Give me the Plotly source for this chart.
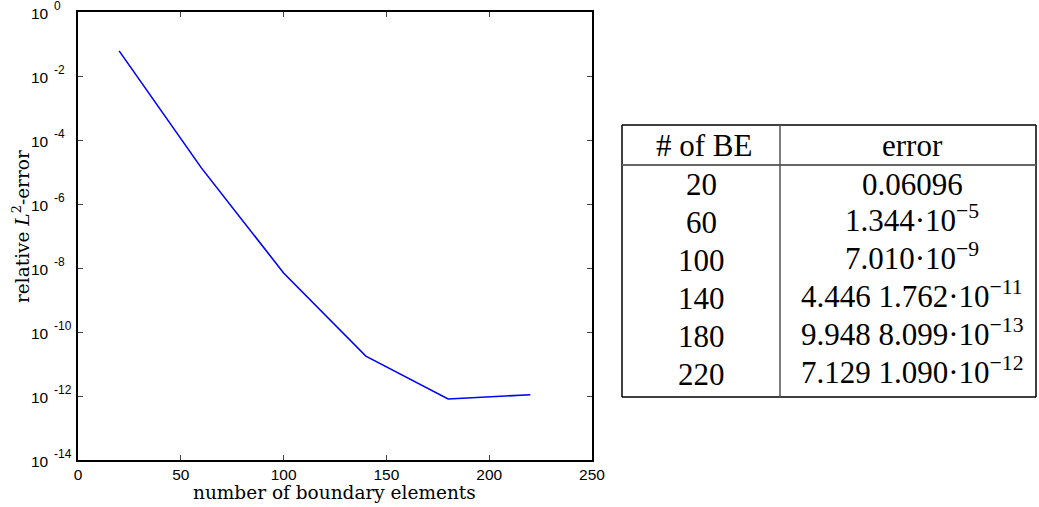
import numpy as np
import plotly.graph_objects as go

# ---- data ----
n_be = [20, 60, 100, 140, 180, 220]
rel_error = [0.06096, 1.344e-5, 7.010e-9, 1.762e-11, 8.099e-13, 1.090e-12]

ytick_vals = [1e0, 1e-2, 1e-4, 1e-6, 1e-8, 1e-10, 1e-12, 1e-14]
ytick_base = ["10"] * 8
ytick_exp = ["0", "-2", "-4", "-6", "-8", "-10", "-12", "-14"]
xtick_vals = [0, 50, 100, 150, 200, 250]

table_header = ["# of BE", "error"]
table_col1 = ["20", "60", "100", "140", "180", "220"]
table_col2 = ["0.06096",
              "1.344·10<sup>−5</sup>",
              "7.010·10<sup>−9</sup>",
              "4.446 1.762·10<sup>−11</sup>",
              "9.948 8.099·10<sup>−13</sup>",
              "7.129 1.090·10<sup>−12</sup>"]

# ---- layout geometry (screen pixels; body margin removed) ----
W, H = 1039, 507
L, R, T, B = 78, 592, 12, 460

def px(x):
    return (x - L) / (R - L)

def py(y):
    return (B - y) / (B - T)

fig = go.Figure()
fig.add_trace(go.Scatter(x=n_be, y=rel_error, mode="lines",
                         line=dict(color="#0000ff", width=1.6),
                         showlegend=False, hoverinfo="skip"))

sans = "Liberation Sans, Arial, sans-serif"
axis_common = dict(showline=True, linecolor="black", linewidth=1.5, mirror="ticks",
                   ticks="inside", ticklen=5, tickcolor="#444", tickwidth=1,
                   showgrid=False, zeroline=False, automargin=False,
                   tickfont=dict(family=sans, size=15.5, color="black"))

fig.update_layout(
    width=W, height=H,
    margin=dict(l=L, r=W - R, t=T, b=H - B, pad=0, autoexpand=False),
    paper_bgcolor="white", plot_bgcolor="white",
    xaxis=dict(range=[0, 250], tickvals=xtick_vals, **axis_common),
    yaxis=dict(type="log", range=[-14, 0], tickvals=ytick_vals, showticklabels=False,
               **axis_common),
)

# y tick labels: base "10" right-aligned, exponent raised to its right (MATLAB style)
for v, b, e in zip(ytick_vals, ytick_base, ytick_exp):
    fig.add_annotation(x=px(51), y=np.log10(v), xref="paper", yref="y",
                       text=b, showarrow=False, xanchor="right", yanchor="middle",
                       yshift=-1.5, font=dict(family=sans, size=15.5, color="black"))
    fig.add_annotation(x=px(52), y=np.log10(v), xref="paper", yref="y",
                       text=e, showarrow=False, xanchor="left", yanchor="middle",
                       yshift=6.5, font=dict(family=sans, size=12, color="black"))

serif = "DejaVu Serif, Liberation Serif, serif"
tserif = "Liberation Serif, Times New Roman, serif"

# axis titles
fig.add_annotation(x=px(334), y=py(492), xref="paper", yref="paper",
                   text="number of boundary elements", showarrow=False,
                   font=dict(family=serif, size=18.5, color="black"),
                   xanchor="center", yanchor="middle")
fig.add_annotation(x=px(21), y=py(227), xref="paper", yref="paper",
                   text="relative <i>L</i><sup>2</sup>-error", showarrow=False,
                   textangle=-90,
                   font=dict(family=serif, size=18.5, color="black"),
                   xanchor="center", yanchor="middle")

# ---- table ----
tl, tr, tt, tb = 622, 1036, 125, 397
tdiv = 780
thead = 165

def line(x0, y0, x1, y1, color="black", width=1.5):
    fig.add_shape(type="line", xref="paper", yref="paper",
                  x0=px(x0), y0=py(y0), x1=px(x1), y1=py(y1),
                  line=dict(color=color, width=width))

line(tl, tt, tr, tt)
line(tl, tb, tr, tb)
line(tl, tt, tl, tb)
line(tr, tt, tr, tb)
line(tl, thead, tr, thead, color="#666", width=2.2)
line(tdiv, tt, tdiv, tb, color="#555", width=1.5)

c1x, c2x = 704, 912
font_t = dict(family=tserif, size=31, color="black")
fig.add_annotation(x=px(c1x), y=py(145), xref="paper", yref="paper",
                   text=table_header[0], showarrow=False, font=font_t,
                   xanchor="center", yanchor="middle")
fig.add_annotation(x=px(c2x), y=py(145), xref="paper", yref="paper",
                   text=table_header[1], showarrow=False, font=font_t,
                   xanchor="center", yanchor="middle")
for i, (a, b) in enumerate(zip(table_col1, table_col2)):
    yc = 184 + 38 * i
    fig.add_annotation(x=px(c1x - 3), y=py(yc), xref="paper", yref="paper",
                       text=a, showarrow=False, font=font_t,
                       xanchor="center", yanchor="middle")
    fig.add_annotation(x=px(c2x), y=py(yc - (4 if "sup" in b else 0)), xref="paper", yref="paper",
                       text=b, showarrow=False, font=font_t,
                       xanchor="center", yanchor="middle")

fig.write_html("out.html", config={"displayModeBar": False},
               post_script="document.body.style.margin='0';document.body.style.overflow='hidden';")
